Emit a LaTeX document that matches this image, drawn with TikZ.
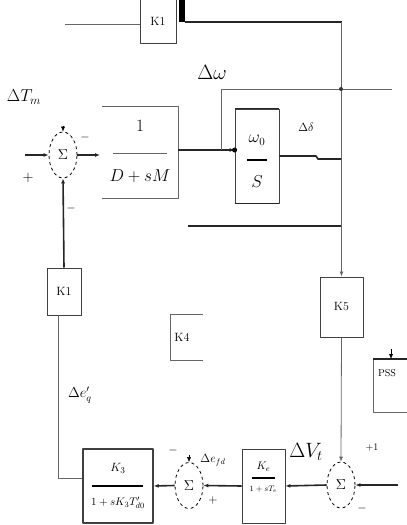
\documentclass[tikz,border=0pt]{standalone}
\usetikzlibrary{arrows.meta,shapes.geometric}
\tikzset{
  pix/.style={x=1pt,y=-1pt,>={Latex[length=5pt,width=4pt]},line join=round},
  fine/.style={line width=0.8pt,black!60},
  heavy/.style={line width=1.6pt,black!85},
  blk/.style={draw,line width=1pt,black!75,inner sep=0pt,text=black},
  sumnode/.style={ellipse,draw,dashed,line width=0.8pt,minimum width=28pt,minimum height=46pt,inner sep=0pt,font=\fontsize{14}{16}\selectfont},
  lab/.style={inner sep=0pt}
}

\begin{document}
\begin{tikzpicture}[pix]
  \useasboundingbox (0,0) rectangle (407,525);
  % top row
  \node[blk,minimum width=36pt,minimum height=44pt] (K1a) at (158,21) {\fontsize{12}{13}\selectfont K1};
  \node[fill=black,minimum width=6pt,minimum height=22pt,inner sep=0pt] (bar) at (182,11) {};
  \node[blk,minimum width=43pt,minimum height=60pt] (K5) at (341.5,307) {\fontsize{12}{13}\selectfont K5};
  \coordinate (in1) at (65,24);
  \draw[fine] (in1) -- (in1 -| K1a.west);
  \coordinate (c1) at (bar.south east -| K5.north);
  \draw[heavy] (bar.south east) -- (c1);
  \draw[fine,->] (c1) -- (K5.north);
  \coordinate (jw) at (341,89);
  \coordinate (wa) at (221,89);
  \draw[fine] (wa) -- (392,89);
  \fill[black!80] (jw) circle (2pt);
  \node[lab] at (212,72) {\fontsize{20}{24}\selectfont$\Delta\omega$};
  % torque sum
  \node[lab] at (24,97) {\fontsize{17}{20}\selectfont$\Delta T_m$};
  \node[sumnode] (S1) at (63,155) {$\Sigma$};
  \coordinate (tm) at (25,155);
  \coordinate (t1) at (63,126);
  \coordinate (b1in) at (100,155);
  \draw[heavy,->] (tm) -- (S1.west);
  \draw[->] (t1) -- (S1.north);
  \draw[heavy,->] (S1.east) -- (b1in);
  \node[lab] at (28,178) {\fontsize{14}{16}\selectfont$+$};
  \node[lab] at (85,137) {\fontsize{12}{14}\selectfont$-$};
  \node[lab] at (71,208) {\fontsize{12}{14}\selectfont$-$};
  % 1/(D+sM)
  \draw[fine] (102,106) -- (178,106) -- (178,198) -- (102,198);
  \node[lab] (num1) at (140,126) {\fontsize{16}{18}\selectfont$1$};
  \node[lab] (den1) at (140,176) {\fontsize{16}{18}\selectfont$D+sM$};
  \draw[fine] (113,153) -- (167,153);
  \coordinate (b1out) at (178,150);
  % omega0/S
  \node[blk,line width=0.8pt,minimum width=44pt,minimum height=94pt] (wS) at (257,156) {};
  \draw[heavy] (wS.north west) -- (wS.north east);
  \draw[heavy] (wS.south west) -- (wS.south east);
  \node[lab] at (257,140) {\fontsize{16}{18}\selectfont$\omega_0$};
  \draw[line width=1.2pt] (247,160) -- (267,160);
  \node[lab] at (257,182) {\fontsize{16}{18}\selectfont$S$};
  \coordinate (dot1) at (wS.west |- b1out);
  \draw[heavy,->] (b1out) -- (dot1);
  \fill (dot1) circle (2.5pt);
  \draw[fine] (wa) -- (wa |- b1out);
  \coordinate (dd) at (341,159);
  \draw[heavy] (wS.east) -- (316,156) -- (318,159) -- (dd);
  \node[lab] at (306,127) {\fontsize{12}{14}\selectfont$\Delta\delta$};
  \draw[heavy] (188,226) -- (341,226);
  % K1 feedback and K4
  \node[blk,minimum width=34pt,minimum height=47pt] (K1b) at (64,291.5) {\fontsize{12}{13}\selectfont K1};
  \draw[heavy,->] (K1b.north) -- (S1.south);
  \draw[fine] (203,314) -- (170,314) -- (170,360) -- (203,360);
  \node[lab] at (182,337) {\fontsize{12}{13}\selectfont K4};
  % bottom row
  \node[blk,line width=1.4pt,minimum width=70pt,minimum height=74pt] (K3) at (118,486) {};
  \node[lab] at (118,468) {\fontsize{13}{15}\selectfont$K_3$};
  \draw[line width=1.2pt] (92,486) -- (143,486);
  \node[lab] at (118,503) {\fontsize{11}{13}\selectfont$1+sK_3T'_{d0}$};
  \coordinate (lf) at (58,478);
  \draw[fine] (58,315) -- (lf) -- (lf -| K3.west);
  \node[lab] at (80,395) {\fontsize{14}{16}\selectfont$\Delta e'_q$};
  \node[sumnode] (S2) at (189,485.5) {$\Sigma$};
  \coordinate (t2) at (189,455);
  \draw[->] (t2) -- (S2.north);
  \draw[heavy,->] (S2.west) -- (K3.east);
  \node[lab] at (173,450) {\fontsize{12}{14}\selectfont$-$};
  \node[lab] at (213,460) {\fontsize{12}{14}\selectfont$\Delta e_{fd}$};
  \node[lab] at (213,500) {\fontsize{12}{14}\selectfont$+$};
  \node[blk,line width=0.8pt,minimum width=43pt,minimum height=74pt] (Ke) at (263.5,486) {};
  \node[lab] at (263.5,467) {\fontsize{11}{13}\selectfont$K_e$};
  \draw[line width=1.1pt] (252,478) -- (275,478);
  \node[lab] at (263.5,489) {\fontsize{8}{9}\selectfont$1+sT_e$};
  \draw[heavy,->] (Ke.west) -- (S2.east);
  \node[sumnode] (S3) at (341,485) {$\Sigma$};
  \draw[fine,->] (K5.south) -- (S3.north);
  \draw[heavy,->] (S3.west) -- (Ke.east);
  \coordinate (vr) at (398,485);
  \draw[heavy,->] (vr) -- (S3.east);
  \node[lab] at (306,452) {\fontsize{20}{24}\selectfont$\Delta V_t$};
  \node[lab] at (372,448) {\fontsize{10}{12}\selectfont$+1$};
  \node[lab] at (362,508) {\fontsize{12}{14}\selectfont$-$};
  % PSS
  \draw[fine] (407,359) -- (373,359) -- (373,412) -- (407,412);
  \draw[heavy] (373,359) -- (407,359);
  \coordinate (tp) at (391,349);
  \draw[->] (tp) -- (391,359);
  \node[lab] at (387,373) {\fontsize{10}{12}\selectfont PSS};
\end{tikzpicture}
\end{document}
